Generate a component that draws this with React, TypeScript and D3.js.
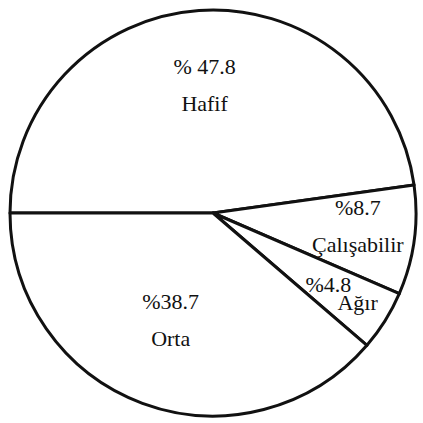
import React, { useRef, useEffect } from 'react';
import * as d3 from 'd3';

// slice data, clockwise from 9 o'clock
const categories = ['Hafif', 'Çalışabilir', 'Ağır', 'Orta'];
const values = [47.8, 8.7, 4.8, 38.7];
const valueLabels = ['% 47.8', '%8.7', '%4.8', '%38.7'];

const width = 423;
const height = 423;

const App = () => {
  const ref = useRef<SVGSVGElement>(null);

  useEffect(() => {
    const svg = d3.select(ref.current);
    svg.selectAll('*').remove();

    const cx = 213;
    const cy = 213;
    const radius = 203;

    const rows = categories.map((name, i) => ({ name, value: values[i], label: valueLabels[i] }));

    const pie = d3.pie<any>()
      .value(d => d.value)
      .sort(null)
      .startAngle(-Math.PI / 2)
      .endAngle((3 * Math.PI) / 2);

    const arcs = pie(rows);

    const arc = d3.arc<any>().innerRadius(0).outerRadius(radius);

    const g = svg.append('g').attr('transform', `translate(${cx},${cy})`);

    g.selectAll('path')
      .data(arcs)
      .enter()
      .append('path')
      .attr('d', arc)
      .attr('fill', 'white')
      .attr('stroke', '#111')
      .attr('stroke-width', 3)
      .attr('stroke-linejoin', 'round');

    const pointAt = (d: any, r: number) =>
      d3.arc<any>().innerRadius(r).outerRadius(r).centroid(d);

    // wide slices: two lines stacked under each other
    // very narrow slices: the two lines go along the bisector
    const labelLines = (d: any) => {
      const span = d.endAngle - d.startAngle;
      if (span < 0.4) {
        const [x1, y1] = pointAt(d, radius * 0.67);
        const [x2, y2] = pointAt(d, radius * 0.84);
        return [
          { x: x1, y: y1 + 7, text: d.data.label },
          { x: x2, y: y2 + 7, text: d.data.name }
        ];
      }
      const [x, y] = pointAt(d, span > 1.5 ? radius * 0.6 : radius * 0.72);
      return [
        { x, y: y - 18, text: d.data.label },
        { x, y: y + 19, text: d.data.name }
      ];
    };

    const lines = arcs.flatMap(labelLines);

    g.selectAll('text')
      .data(lines)
      .enter()
      .append('text')
      .attr('x', d => d.x)
      .attr('y', d => d.y)
      .attr('text-anchor', 'middle')
      .style('font-family', 'Liberation Serif, DejaVu Serif, serif')
      .style('font-size', '22px')
      .attr('fill', '#111')
      .text(d => d.text);
  }, []);

  return (
    <svg
      ref={ref}
      width={width}
      height={height}
      style={{ position: 'absolute', left: 0, top: 0, background: 'white' }}
    />
  );
};

export default App;
